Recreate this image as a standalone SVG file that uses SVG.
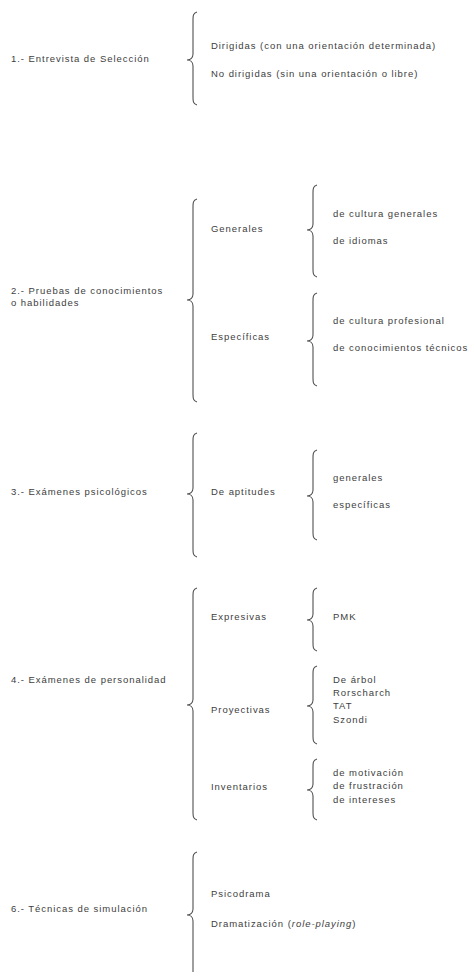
<svg xmlns="http://www.w3.org/2000/svg" width="474" height="972" viewBox="0 0 474 972">
<style>
text{font-family:"Liberation Sans",Arial,sans-serif;font-size:9.5px;fill:#404040;letter-spacing:0.95px}
.b{fill:none;stroke:#505050;stroke-width:1.1}
</style>
<rect width="474" height="972" fill="#fff"/>
<g id="connectors">
<path class="b" d="M197 12 C193 13 193 16 193 20 L193 54 C193 58 190 60 187 60 C190 60 193 62 193 66 L193 97 C193 101 193 104 197 105"/>
<path class="b" d="M197 199 C193 200 193 203 193 207 L193 294 C193 298 190 300 187 300 C190 300 193 302 193 306 L193 394 C193 398 193 401 197 402"/>
<path class="b" d="M317 185 C313 186 313 189 313 193 L313 224 C313 228 310 230 307 230 C310 230 313 232 313 236 L313 269 C313 273 313 276 317 277"/>
<path class="b" d="M317 293 C313 294 313 297 313 301 L313 335 C313 339 310 341 307 341 C310 341 313 343 313 347 L313 378 C313 382 313 385 317 386"/>
<path class="b" d="M197 433 C193 434 193 437 193 441 L193 488 C193 492 190 494 187 494 C190 494 193 496 193 500 L193 549 C193 553 193 556 197 557"/>
<path class="b" d="M317 450 C313 451 313 454 313 458 L313 490 C313 494 310 496 307 496 C310 496 313 498 313 502 L313 532 C313 536 313 539 317 540"/>
<path class="b" d="M197 588 C193 589 193 592 193 596 L193 699 C193 703 190 705 187 705 C190 705 193 707 193 711 L193 812 C193 816 193 819 197 820"/>
<path class="b" d="M317 588 C313 589 313 592 313 596 L313 614 C313 618 310 620 307 620 C310 620 313 622 313 626 L313 643 C313 647 313 650 317 651"/>
<path class="b" d="M317 666 C313 667 313 670 313 674 L313 700 C313 704 310 706 307 706 C310 706 313 708 313 712 L313 736 C313 740 313 743 317 744"/>
<path class="b" d="M317 759 C313 760 313 763 313 767 L313 784 C313 788 310 790 307 790 C310 790 313 792 313 796 L313 812 C313 816 313 819 317 820"/>
<path class="b" d="M197 852 C193 853 193 856 193 860 L193 909 C193 913 190 915 187 915 C190 915 193 917 193 921 L193 972"/>
</g>
<g id="n1">
<text x="11" y="62">1.- Entrevista de Selección</text>
<text x="211" y="49">Dirigidas (con una orientación determinada)</text>
<text x="211" y="77">No dirigidas (sin una orientación o libre)</text>
</g>
<g id="n2">
<text x="11" y="294">2.- Pruebas de conocimientos</text>
<text x="11" y="306">o habilidades</text>
</g>
<g id="n2a">
<text x="211" y="232">Generales</text>
<text x="333" y="217">de cultura generales</text>
<text x="333" y="244">de idiomas</text>
</g>
<g id="n2b">
<text x="211" y="340">Específicas</text>
<text x="333" y="324">de cultura profesional</text>
<text x="333" y="351">de conocimientos técnicos</text>
</g>
<g id="n3">
<text x="11" y="495">3.- Exámenes psicológicos</text>
<text x="211" y="495">De aptitudes</text>
<text x="333" y="481">generales</text>
<text x="333" y="508">específicas</text>
</g>
<g id="n4">
<text x="11" y="683">4.- Exámenes de personalidad</text>
</g>
<g id="n4a">
<text x="211" y="620">Expresivas</text>
<text x="333" y="620">PMK</text>
</g>
<g id="n4b">
<text x="211" y="713">Proyectivas</text>
<text x="333" y="683">De árbol</text>
<text x="333" y="696">Rorscharch</text>
<text x="333" y="709">TAT</text>
<text x="333" y="723">Szondi</text>
</g>
<g id="n4c">
<text x="211" y="790">Inventarios</text>
<text x="333" y="776">de motivación</text>
<text x="333" y="789">de frustración</text>
<text x="333" y="803">de intereses</text>
</g>
<g id="n6">
<text x="11" y="912">6.- Técnicas de simulación</text>
<text x="211" y="897">Psicodrama</text>
<text x="211" y="927">Dramatización (<tspan font-style="italic">role-playing</tspan>)</text>
</g>
</svg>
